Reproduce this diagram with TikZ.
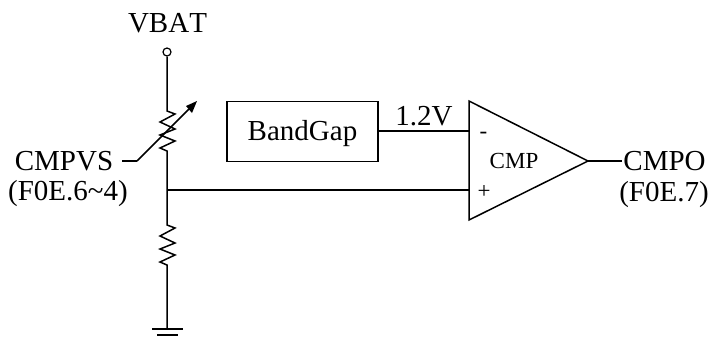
\documentclass[tikz,border=0pt]{standalone}
\usepackage{fontspec}
\setmainfont{Liberation Serif}
\tikzset{
  wire/.style={line width=1.5pt,line join=miter},
  lbl/.style={inner sep=0pt,anchor=base,font=\fontsize{29}{32}\selectfont},
  small/.style={inner sep=0pt,anchor=base,font=\fontsize{23}{25}\selectfont}
}
\begin{document}
\begin{tikzpicture}[x=1pt,y=-1pt]
\useasboundingbox (0,0) rectangle (711,338);
\node[circle,draw,line width=1.2pt,minimum size=8pt,inner sep=0pt] (vc) at (167,52) {};
\node[lbl] (vbat) at (167.5,32) {\addfontfeature{Kerning=Off}VBAT};
\coordinate (r1a) at (167,111);
\coordinate (r1b) at (167,151);
\coordinate (j) at (167,190);
\coordinate (r2a) at (167,225);
\coordinate (r2b) at (167,265);
\coordinate (gnd) at (167,329);
\draw[wire] (vc.south) -- (r1a) -- (175,114) -- (160,122) -- (175,129) -- (160,135) -- (175,141) -- (160,148) -- (r1b) -- (j) -- (r2a) -- (175,228) -- (160,236) -- (175,243) -- (160,249) -- (175,255) -- (160,262) -- (r2b) -- (gnd);
\coordinate (g1l) at (152,329); \coordinate (g1r) at (183,329);
\coordinate (g2l) at (157,335); \coordinate (g2r) at (178,335);
\draw[wire] (g1l) -- (g1r);
\draw[wire] (g2l) -- (g2r);
\node[lbl] (cmpvs) at (64,170) {CMPVS};
\node[lbl] (cmpvsb) at (68,200) {(F0E.6\textasciitilde4)};
\coordinate (s1) at (122,161);
\coordinate (s2) at (137,161);
\coordinate (s3) at (197,101);
\draw[wire] (s1) -- (s2);
\fill (s3) -- (186,106) -- (192,113) -- cycle;
\draw[wire] (s2) -- (189,109);
\node[draw,line width=1.3pt,minimum width=151pt,minimum height=60pt,inner sep=0pt] (bg) at (302.5,131.5) {};
\node[lbl] (bgt) at (302.5,140) {BandGap};
\coordinate (tl) at (469,101);
\coordinate (bl) at (469,220);
\coordinate (tip) at (588,161);
\draw[wire] (tl) -- (tip) -- (bl) -- cycle;
\coordinate (im) at (469,131);
\coordinate (ip) at (469,190);
\draw[wire] (bg.east |- im) -- (im);
\draw[wire] (j) -- (ip);
\node[lbl] (v12) at (424,125) {1.2V};
\node[small] (cmp) at (514,168) {CMP};
\node[small] (minus) at (483.5,138) {-};
\node[small] (plus) at (484,198) {+};
\coordinate (o) at (622,161);
\draw[wire] (tip) -- (o);
\node[lbl] (cmpo) at (664.5,170) {CMPO};
\node[lbl] (cmpob) at (664,201) {(F0E.7)};
\end{tikzpicture}
\end{document}
